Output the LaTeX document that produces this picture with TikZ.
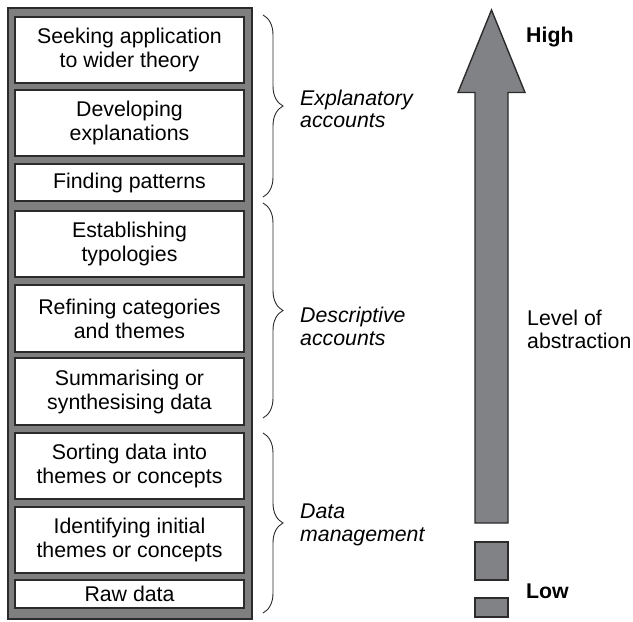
\documentclass[tikz,border=0pt]{standalone}
\usepackage{fontspec}
\setmainfont{Liberation Sans}
\usetikzlibrary{decorations.pathreplacing}
\definecolor{dgrey}{HTML}{2B2B2B}
\definecolor{mgrey}{HTML}{808285}
\definecolor{cgrey}{HTML}{7F7F7F}
\begin{document}
\begin{tikzpicture}[x=1pt,y=-1pt,
  txt/.style={font=\fontsize{21.3}{23}\selectfont},
  box/.style={font=\fontsize{21.3}{24}\selectfont,draw=dgrey,line width=1.4pt,fill=white,minimum width=229pt,
    align=center,inner sep=0pt},
  lab/.style={txt,align=left,inner sep=0pt,anchor=north west},
  brc/.style={draw=dgrey,line width=0.9pt,decorate,decoration={brace,amplitude=20pt}},
  bar/.style={draw=dgrey,line width=1.4pt,fill=mgrey}]
\useasboundingbox (0,0) rectangle (633,622);
% outer column
\draw[draw=dgrey,line width=1.4pt,fill=cgrey] (8,8) rectangle (252,619);
% boxes
\node[box,minimum height=66pt] (b1) at (129.5,50) {Seeking application\\to wider theory};
\node[box,minimum height=66pt] (b2) at (129.5,123) {Developing\\explanations};
\node[box,minimum height=37pt] (b3) at (129.5,182.5) {Finding patterns};
\node[box,minimum height=66pt] (b4) at (129.5,244) {Establishing\\typologies};
\node[box,minimum height=67pt] (b5) at (129.5,318.5) {Refining categories\\and themes};
\node[box,minimum height=67pt] (b6) at (129.5,391.5) {Summarising or\\synthesising data};
\node[box,minimum height=66pt] (b7) at (129.5,466) {Sorting data into\\themes or concepts};
\node[box,minimum height=66pt] (b8) at (129.5,540) {Identifying initial\\themes or concepts};
\node[box,minimum height=28pt] (b9) at (129.5,594) {Raw data};
% braces
\coordinate (e1) at (263,15);  \coordinate (e2) at (263,197);
\coordinate (d1) at (263,203); \coordinate (d2) at (263,418);
\coordinate (m1) at (263,433); \coordinate (m2) at (263,613);
\draw[brc] (e1) -- (e2);
\draw[brc] (d1) -- (d2);
\draw[brc] (m1) -- (m2);
% brace labels
\node[lab,font=\fontsize{21.3}{22.5}\selectfont\itshape] (le) at (300,89.5) {Explanatory\\accounts};
\node[lab,font=\fontsize{21.3}{23}\selectfont\itshape] (ld) at (300,306.5) {Descriptive\\accounts};
\node[lab,font=\fontsize{21.3}{23}\selectfont\itshape] (lm) at (300,503.5) {Data\\management};
% arrow
\draw[bar] (491.5,10) -- (525,92.5) -- (508,92.5) -- (508,523) -- (475,523) -- (475,92.5) -- (458,92.5) -- cycle;
\draw[bar] (475,542) rectangle (508,580);
\draw[bar] (475,598) rectangle (508,617);
% arrow labels
\node[txt,font=\fontsize{21.3}{23}\selectfont\bfseries,anchor=base west,inner sep=0pt] (hi) at (526,42) {High};
\node[txt,font=\fontsize{21.3}{23}\selectfont\bfseries,anchor=base west,inner sep=0pt] (lo) at (526,598) {Low};
\node[lab] (lv) at (527,309.5) {Level of\\abstraction};
\end{tikzpicture}
\end{document}
